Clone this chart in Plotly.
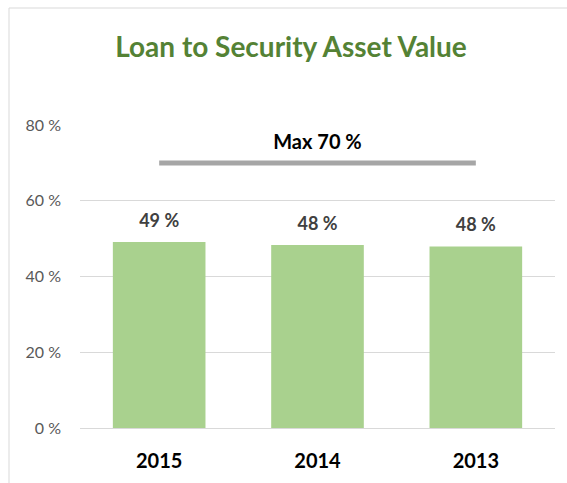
import plotly.graph_objects as go

years = ["2015", "2014", "2013"]
ltv = [49.1, 48.3, 47.9]
ltv_labels = ["49 %", "48 %", "48 %"]
max_limit = 70
max_label = "Max 70 %"
y_ticks = [0, 20, 40, 60, 80]
y_tick_text = ["0 %", "20 %", "40 %", "60 %", "80 %"]

W, H = 567, 483
L, R, T, B = 80, 12, 125, 55

fig = go.Figure()
fig.add_trace(go.Bar(
    x=years, y=ltv, width=0.585,
    marker=dict(color="#a9d18e", line=dict(width=0)),
    hoverinfo="skip",
))
fig.add_trace(go.Scatter(
    x=years, y=[max_limit] * len(years), mode="lines",
    line=dict(color="#a6a6a6", width=5),
    hoverinfo="skip",
))
# value labels (invisible marker used as spacer above bar top)
fig.add_trace(go.Scatter(
    x=years, y=ltv, mode="markers+text",
    marker=dict(size=16, color="rgba(0,0,0,0)"),
    text=["<b>" + t + "</b>" for t in ltv_labels], textposition="top center",
    textfont=dict(family="Lato", size=18, color="#404040"),
    hoverinfo="skip", cliponaxis=False,
))
fig.add_trace(go.Scatter(
    x=[years[1]], y=[max_limit], mode="markers+text",
    marker=dict(size=12, color="rgba(0,0,0,0)"),
    text=["<b>" + max_label + "</b>"], textposition="top center",
    textfont=dict(family="Lato", size=20, color="#000000"),
    hoverinfo="skip", cliponaxis=False,
))

pw = W - L - R
ph = H - T - B
fig.add_shape(
    type="rect", xref="paper", yref="paper",
    x0=(9 - L) / pw, x1=(W + 20 - L) / pw,
    y0=-(B + 20) / ph, y1=(H - 8 - B) / ph,
    line=dict(color="#d9d9d9", width=1), fillcolor="rgba(0,0,0,0)", layer="below",
)

fig.update_layout(
    width=W, height=H,
    margin=dict(l=L, r=R, t=T, b=B),
    paper_bgcolor="white", plot_bgcolor="white",
    showlegend=False,
    title=dict(
        text="<b>Loan to Security Asset Value</b>",
        x=291 / W, xanchor="center", y=1 - 47 / H, yanchor="middle",
        font=dict(family="Lato", size=28, color="#548235"),
    ),
    xaxis=dict(
        type="category", range=[-0.5, 2.5],
        showgrid=False, showline=True, linecolor="#d9d9d9", linewidth=1,
        tickfont=dict(family="Lato", size=20, color="#000000", weight="bold"),
        ticks="", ticklabelstandoff=15,
    ),
    yaxis=dict(
        range=[0, 80], tickmode="array", tickvals=y_ticks, ticktext=y_tick_text,
        showgrid=True, gridcolor="#d9d9d9", gridwidth=1,
        zeroline=False, showline=False,
        tickfont=dict(family="Lato", size=16, color="#595959"),
        ticklabelstandoff=18,
    ),
)

fig.write_html("out.html", config={"displayModeBar": False},
               post_script="document.body.style.margin='0';")
